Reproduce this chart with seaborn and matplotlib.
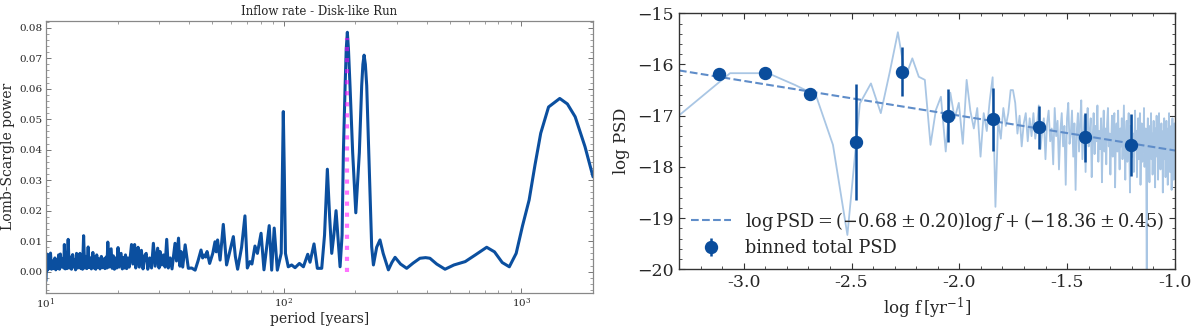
import numpy as np
import matplotlib
matplotlib.use("Agg")
import matplotlib.pyplot as plt
import seaborn as sns
from matplotlib.ticker import MultipleLocator, FormatStrFormatter

# --- left panel: Lomb-Scargle periodogram of the inflow rate
ls_period = [
    10.0, 10.08, 10.16, 10.25, 10.33, 10.45, 10.55, 10.65, 10.78, 10.9,
    11.0, 11.1, 11.2, 11.3, 11.4, 11.5, 11.62, 11.75, 11.88, 11.95,
    12.05, 12.15, 12.25, 12.4, 12.52, 12.65, 12.8, 12.95, 13.08, 13.2,
    13.32, 13.45, 13.6, 13.75, 13.9, 14.02, 14.15, 14.25, 14.4, 14.55,
    14.7, 14.85, 15.05, 15.2, 15.38, 15.52, 15.75, 15.9, 16.05, 16.2,
    16.35, 16.5, 16.7, 16.88, 17.1, 17.3, 17.5, 17.7, 17.9, 18.05,
    18.2, 18.4, 18.6, 18.8, 18.98, 19.2, 19.4, 19.6, 19.85, 20.1,
    20.3, 20.7, 20.95, 21.2, 21.4, 21.6, 21.85, 22.1, 22.4, 22.9,
    23.2, 23.6, 23.85, 24.1, 24.4, 24.7, 25.2, 25.6, 26.0, 26.4,
    26.8, 27.3, 27.8, 28.3, 28.8, 29.5, 29.9, 30.2, 30.7, 31.2,
    31.7, 32.2, 32.7, 33.3, 33.9, 34.9, 35.4, 36.1, 36.6, 37.0,
    37.6, 38.5, 39.7, 41.0, 42.4, 43.6, 44.9, 45.6, 46.4, 47.0,
    47.6, 48.8, 50.3, 51.4, 52.0, 52.7, 54.0, 55.7, 57.5, 59.3,
    61.4, 62.6, 64.0, 66.5, 68.7, 70.3, 72.1, 73.5, 75.7, 77.5,
    80.3, 82.6, 84.8, 86.9, 89.0, 91.2, 94.0, 97.6, 98.7, 99.6,
    100.6, 101.7, 104.5, 108.0, 111.6, 116.4, 121.0, 126.2, 129.0, 134.1,
    138.5, 144.5, 148.5, 152.6, 156.0, 159.2, 162.5, 166.0, 169.5, 172.6,
    176.0, 178.2, 181.2, 183.2, 185.2, 187.2, 190.1, 195.0, 201.0, 208.0,
    212.8, 215.3, 217.8, 220.5, 223.4, 229.0, 234.4, 238.4, 246.0, 254.0,
    262.0, 275.6, 285.0, 294.0, 310.0, 329.0, 350.0, 374.0, 395.0, 412.0,
    440.0, 477.0, 520.0, 580.0, 640.0, 714.0, 770.0, 830.0, 889.0, 950.0,
    1010.0, 1077.0, 1140.0, 1205.0, 1300.0, 1449.0, 1560.0, 1682.0, 1850.0, 2000.0,
]
ls_power = [
    -0.003, 0.0058, 0.0005, 0.0055, 0.001, 0.0061, 0.0008, 0.0035, 0.001, 0.0045,
    0.0006, 0.004, 0.0012, 0.0055, 0.0008, 0.0058, 0.0015, 0.0042, 0.0012, 0.0089,
    0.0009, 0.0035, 0.001, 0.0106, 0.0012, 0.0048, 0.0008, 0.0056, 0.0015, 0.004,
    0.0006, 0.006, 0.0012, 0.0045, 0.006, 0.001, 0.0035, 0.0008, 0.0118, 0.0012,
    0.005, 0.001, 0.0081, 0.0014, 0.0045, 0.0009, 0.0063, 0.0012, 0.0048, 0.0008,
    0.0055, 0.0015, 0.0042, 0.0009, 0.005, 0.0013, 0.0042, 0.001, 0.0048, 0.0012,
    0.0097, 0.0015, 0.0045, 0.0075, 0.0011, 0.0052, 0.0008, 0.0045, 0.0012, 0.0079,
    0.0015, 0.006, 0.0009, 0.0046, 0.0012, 0.0055, 0.001, 0.0045, 0.0015, 0.0089,
    0.0025, 0.0089, 0.0012, 0.0045, 0.008, 0.0015, 0.007, 0.0009, 0.0052, 0.006,
    0.0008, 0.0045, 0.0012, 0.0093, 0.0018, 0.0077, 0.0012, 0.0066, 0.0022, 0.0055,
    0.0015, 0.0106, 0.0012, 0.0045, 0.0009, 0.0093, 0.0035, 0.011, 0.0018, 0.0066,
    0.0015, 0.0088, 0.0011, 0.0012, 0.0005, 0.0035, 0.0071, 0.0045, 0.0055, 0.0048,
    0.0066, 0.0027, 0.006, 0.0098, 0.0065, 0.0104, 0.0038, 0.0155, 0.0022, 0.0065,
    0.0115, 0.005, 0.0008, 0.008, 0.0183, 0.0012, 0.0033, 0.0025, 0.0084, 0.006,
    0.0126, 0.0006, 0.008, 0.0151, 0.0005, 0.0143, 0.0005, 0.006, 0.032, 0.0525,
    0.032, 0.006, 0.0016, 0.0022, 0.0013, 0.0027, 0.0016, 0.0057, 0.0031, 0.0091,
    0.0011, 0.0011, 0.012, 0.0336, 0.018, 0.006, 0.012, 0.020, 0.010, 0.0016,
    0.012, 0.039, 0.0607, 0.073, 0.0785, 0.073, 0.0607, 0.039, 0.0193, 0.039,
    0.061, 0.068, 0.071, 0.068, 0.061, 0.034, 0.0082, 0.0022, 0.008, 0.0104,
    0.006, 0.0006, 0.003, 0.0047, 0.0025, 0.0011, 0.0028, 0.0044, 0.0046, 0.0044,
    0.0025, 0.0008, 0.0022, 0.0033, 0.0055, 0.008, 0.0065, 0.003, 0.0016, 0.006,
    0.015, 0.0235, 0.035, 0.0454, 0.054, 0.0568, 0.055, 0.0508, 0.041, 0.0311,
]
peak_period = 185.2
peak_power = 0.0765

# --- right panel: PSD of the total inflow (log10 values per frequency bin)
T_span = 2313.0  # years, sets the frequency grid k / T
psd_log = [
    -17.22, -16.17, -16.17, -16.40, -16.60, -17.57, -19.33, -16.76, -16.37, -16.95,
    -16.15, -15.37, -16.25, -15.88, -16.24, -16.30, -17.57, -16.89, -16.63, -17.70,
    -16.55, -17.05, -16.75, -17.55, -16.30, -16.90, -17.25, -16.85, -17.80, -16.95,
    -17.30, -16.70, -16.25, -18.78, -17.10, -17.45, -16.85, -17.20, -16.95, -16.50,
    -16.50, -16.75, -17.35, -17.00, -17.60, -17.15, -16.95, -17.50, -17.05, -17.40,
    -16.95, -17.45, -17.20, -16.80, -17.65, -17.30, -17.05, -17.85, -17.15, -16.90,
    -17.50, -17.25, -17.95, -16.85, -17.40, -17.10, -18.05, -17.30, -16.95, -17.60,
    -17.20, -18.35, -17.05, -16.75, -17.55, -17.35, -16.90, -17.80, -17.15, -18.45,
    -17.30, -16.95, -17.70, -17.10, -16.70, -17.85, -17.40, -17.00, -18.10, -17.25,
    -16.85, -17.60, -17.35, -17.05, -18.20, -17.45, -16.95, -17.75, -17.20, -17.50,
    -16.80, -17.90, -17.30, -17.65, -17.05, -18.30, -17.40, -16.90, -17.70, -17.25,
    -17.95, -17.15, -16.85, -17.60, -17.35, -18.15, -17.50, -17.00, -17.80, -17.30,
    -16.95, -18.40, -17.45, -17.15, -17.70, -16.90, -17.55, -18.05, -17.25, -17.60,
    -17.05, -17.85, -17.35, -16.80, -17.65, -18.25, -17.40, -17.10, -17.90, -17.30,
    -16.95, -17.75, -18.50, -17.20, -17.55, -17.00, -17.80, -17.35, -18.10, -17.45,
    -16.90, -17.65, -17.30, -18.20, -17.50, -17.05, -17.85, -17.40, -16.95, -18.35,
    -17.55, -17.15, -17.90, -17.35, -17.70, -16.85, -18.00, -17.45, -17.25, -17.80,
    -20.30, -17.40, -17.05, -17.95, -17.50, -18.30, -17.20, -17.65, -16.95, -17.85,
    -17.35, -18.15, -17.60, -17.10, -17.90, -17.45, -18.40, -17.25, -17.70, -17.00,
    -17.80, -17.40, -18.25, -17.55, -16.95, -17.75, -17.35, -18.05, -17.60, -17.15,
    -17.90, -17.45, -18.50, -17.30, -17.70, -17.05, -17.85, -17.40, -18.20, -17.55,
    -17.10, -17.95, -17.50, -18.35, -17.25, -17.75, -16.95, -17.65, -18.10, -17.40,
    -17.80, -17.20, -18.45, -17.55, -17.05, -17.90, -17.35, -18.25, -17.60, -17.15,
    -17.70,
]
bin_logf = [-3.114, -2.902, -2.693, -2.479, -2.266, -2.054, -1.843, -1.629, -1.416, -1.204]
bin_logpsd = [-16.19, -16.17, -16.57, -17.52, -16.14, -17.00, -17.07, -17.23, -17.42, -17.57]
bin_err = [0.05, 0.05, 0.05, 1.13, 0.48, 0.52, 0.61, 0.42, 0.48, 0.60]
fit_slope, fit_slope_err = -0.68, 0.20
fit_icpt, fit_icpt_err = -18.36, 0.45

sns.set_theme(style="ticks")
plt.rcParams['font.family'] = ['DejaVu Serif']
plt.rcParams['mathtext.fontset'] = 'dejavuserif'

fig = plt.figure(figsize=(12, 3.28), dpi=100)
ax1 = fig.add_axes([0.0383, 0.1076, 0.4559, 0.8293])
ax2 = fig.add_axes([0.5658, 0.179, 0.4134, 0.7805])

# left
sns.lineplot(x=ls_period, y=ls_power, ax=ax1, color="#0b4f9f", lw=2.2,
             sort=False, estimator=None)
ax1.plot([peak_period, peak_period], [0, peak_power], ls=':', color='magenta',
         alpha=0.55, lw=3)
ax1.set_xscale('log')
ax1.set_xlim(10, 2000)
ax1.set_ylim(-0.0069, 0.0823)
ax1.yaxis.set_major_locator(MultipleLocator(0.01))
ax1.yaxis.set_minor_locator(MultipleLocator(0.002))
ax1.yaxis.set_major_formatter(FormatStrFormatter('%.2f'))
ax1.tick_params(which='both', direction='in', top=True, right=True,
                labelsize=7.5, color='#777777', pad=2.5)
ax1.tick_params(which='major', length=3.5, width=0.7)
ax1.tick_params(which='minor', length=2, width=0.5)
for s in ax1.spines.values():
    s.set_color('#888888')
    s.set_linewidth(0.9)
ax1.set_title('Inflow rate - Disk-like Run', fontsize=8.5, pad=4)
ax1.set_xlabel('period [years]', fontsize=10, labelpad=1)
ax1.set_ylabel('Lomb-Scargle power', fontsize=10, labelpad=3)

# right
psd_logf = np.log10(np.arange(1, len(psd_log) + 1) / T_span)
sns.lineplot(x=psd_logf, y=psd_log, ax=ax2, color="#a9c6e4", lw=1.3,
             sort=False, estimator=None, legend=False)
xlim = (-3.3, -1.0)
fit_line, = ax2.plot(xlim, [fit_slope * x + fit_icpt for x in xlim], ls='--',
                     color='#5f8dc9', lw=1.5)
eb = ax2.errorbar(bin_logf, bin_logpsd, yerr=bin_err, fmt='o', ms=8.6,
                  color='#0a4d9c', elinewidth=1.8, capsize=0)
ax2.set_xlim(*xlim)
ax2.set_ylim(-20, -15)
ax2.xaxis.set_major_locator(MultipleLocator(0.5))
ax2.xaxis.set_minor_locator(MultipleLocator(0.1))
ax2.xaxis.set_major_formatter(FormatStrFormatter('%.1f'))
ax2.yaxis.set_major_locator(MultipleLocator(1))
ax2.yaxis.set_minor_locator(MultipleLocator(0.2))
ax2.tick_params(which='both', direction='in', top=True, right=True,
                labelsize=12.5, color='#333333')
ax2.tick_params(which='major', length=4, width=0.8)
ax2.tick_params(which='minor', length=2.2, width=0.6)
for s in ax2.spines.values():
    s.set_color('#333333')
    s.set_linewidth(1.0)
ax2.set_ylabel(r'$\log\,{\rm PSD}$', fontsize=12, labelpad=4)
ax2.set_xlabel(r'$\log\,{\rm f}\,[{\rm yr}^{-1}]$', fontsize=12, labelpad=3)
fit_label = (r'$\log{\rm PSD}=(%.2f\pm%.2f)\log f+(%.2f\pm%.2f)$'
             % (fit_slope, fit_slope_err, fit_icpt, fit_icpt_err))
ax2.legend([fit_line, eb], [fit_label, 'binned total PSD'], loc='lower left',
           frameon=False, fontsize=12.8, handlelength=2.2, borderaxespad=0.3,
           labelspacing=0.35)

fig.savefig('out.png', dpi=100)
